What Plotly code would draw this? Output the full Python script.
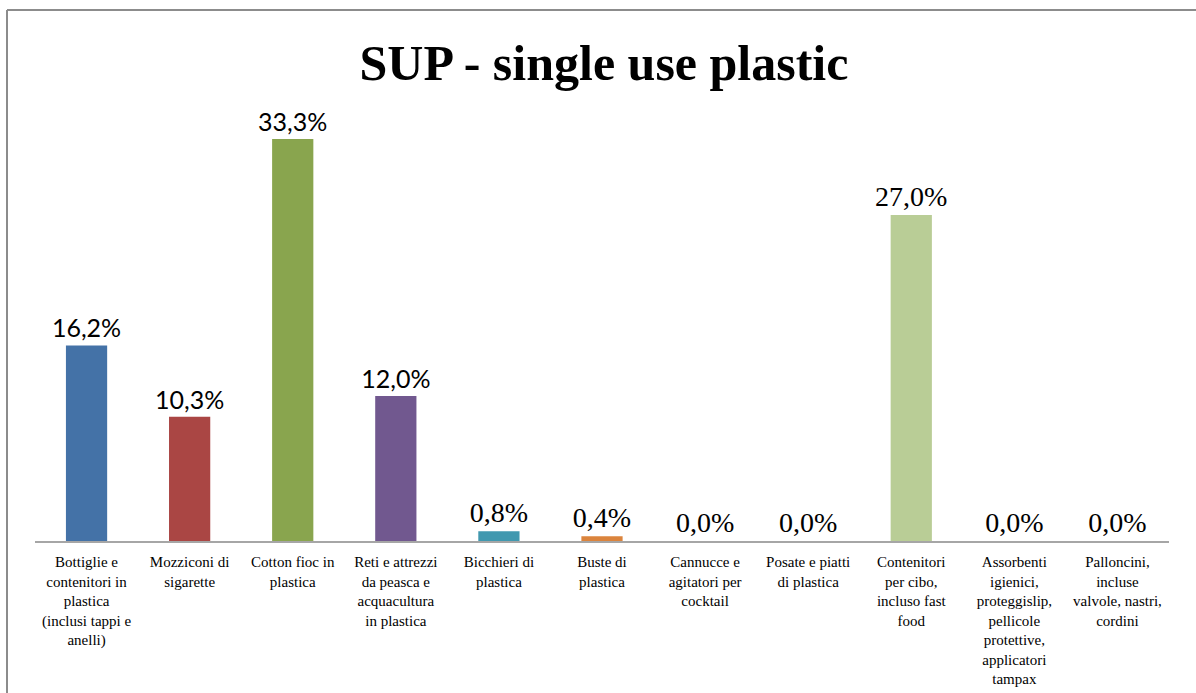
import plotly.graph_objects as go

categories = [
    "Bottiglie e<br>contenitori in<br>plastica<br>(inclusi tappi e<br>anelli)",
    "Mozziconi di<br>sigarette",
    "Cotton fioc in<br>plastica",
    "Reti e attrezzi<br>da peasca e<br>acquacultura<br>in plastica",
    "Bicchieri di<br>plastica",
    "Buste di<br>plastica",
    "Cannucce e<br>agitatori per<br>cocktail",
    "Posate e piatti<br>di plastica",
    "Contenitori<br>per cibo,<br>incluso fast<br>food",
    "Assorbenti<br>igienici,<br>proteggislip,<br>pellicole<br>protettive,<br>applicatori<br>tampax",
    "Palloncini,<br>incluse<br>valvole, nastri,<br>cordini",
]
values = [16.2, 10.3, 33.3, 12.0, 0.8, 0.4, 0.0, 0.0, 27.0, 0.0, 0.0]
colors = ["#4472A7", "#AA4644", "#89A54E", "#71588F", "#4198AF", "#DB843D",
          "#93A9CF", "#D19392", "#B9CD96", "#A99BBD", "#91C3D5"]
label_fonts = ["Lato"] * 4 + ["Liberation Serif"] * 7
label_sizes = [25] * 4 + [28] * 7

labels = [f"{v:.1f}%".replace(".", ",") for v in values]
xs = list(range(len(categories)))

fig = go.Figure(go.Bar(
    x=xs, y=values, marker_color=colors, marker_line_width=0,
    text=labels, textposition="outside", cliponaxis=False,
    constraintext="none",
    textfont=dict(family=label_fonts, size=label_sizes, color="black"),
))

W, H = 1196, 693
L, R, B, T = 35, 27, 152, 58
pw, ph = W - L - R, H - T - B

def px(x):
    return (x - L) / pw

def py(y):
    return (H - B - y) / ph

border = dict(color="#8c8c8c", width=2)
fig.update_layout(
    width=W, height=H,
    margin=dict(l=L, r=R, t=T, b=B, autoexpand=False),
    paper_bgcolor="white", plot_bgcolor="white",
    bargap=0.6, showlegend=False,
    title=dict(text="<b>SUP - single use plastic</b>", x=0.505, xanchor="center",
               y=1 - 62 / H, yanchor="middle", yref="container",
               font=dict(family="Liberation Serif", size=50, color="black")),
    xaxis=dict(tickmode="array", tickvals=xs, ticktext=categories,
               tickangle=0, showline=True, linecolor="#a6a6a6", linewidth=2,
               showgrid=False, zeroline=False, ticks="", ticklabelstandoff=6,
               automargin=False,
               tickfont=dict(family="Liberation Serif", size=15, color="black"),
               range=[-0.5, len(categories) - 0.5]),
    yaxis=dict(visible=False, range=[0, 40], showgrid=False, zeroline=False,
               automargin=False),
    shapes=[
        dict(type="line", xref="paper", yref="paper", x0=px(7), y0=py(10),
             x1=px(W + 5), y1=py(10), line=border),
        dict(type="line", xref="paper", yref="paper", x0=px(7), y0=py(10),
             x1=px(7), y1=py(H + 5), line=border),
    ],
)

fig.write_html("out.html")
